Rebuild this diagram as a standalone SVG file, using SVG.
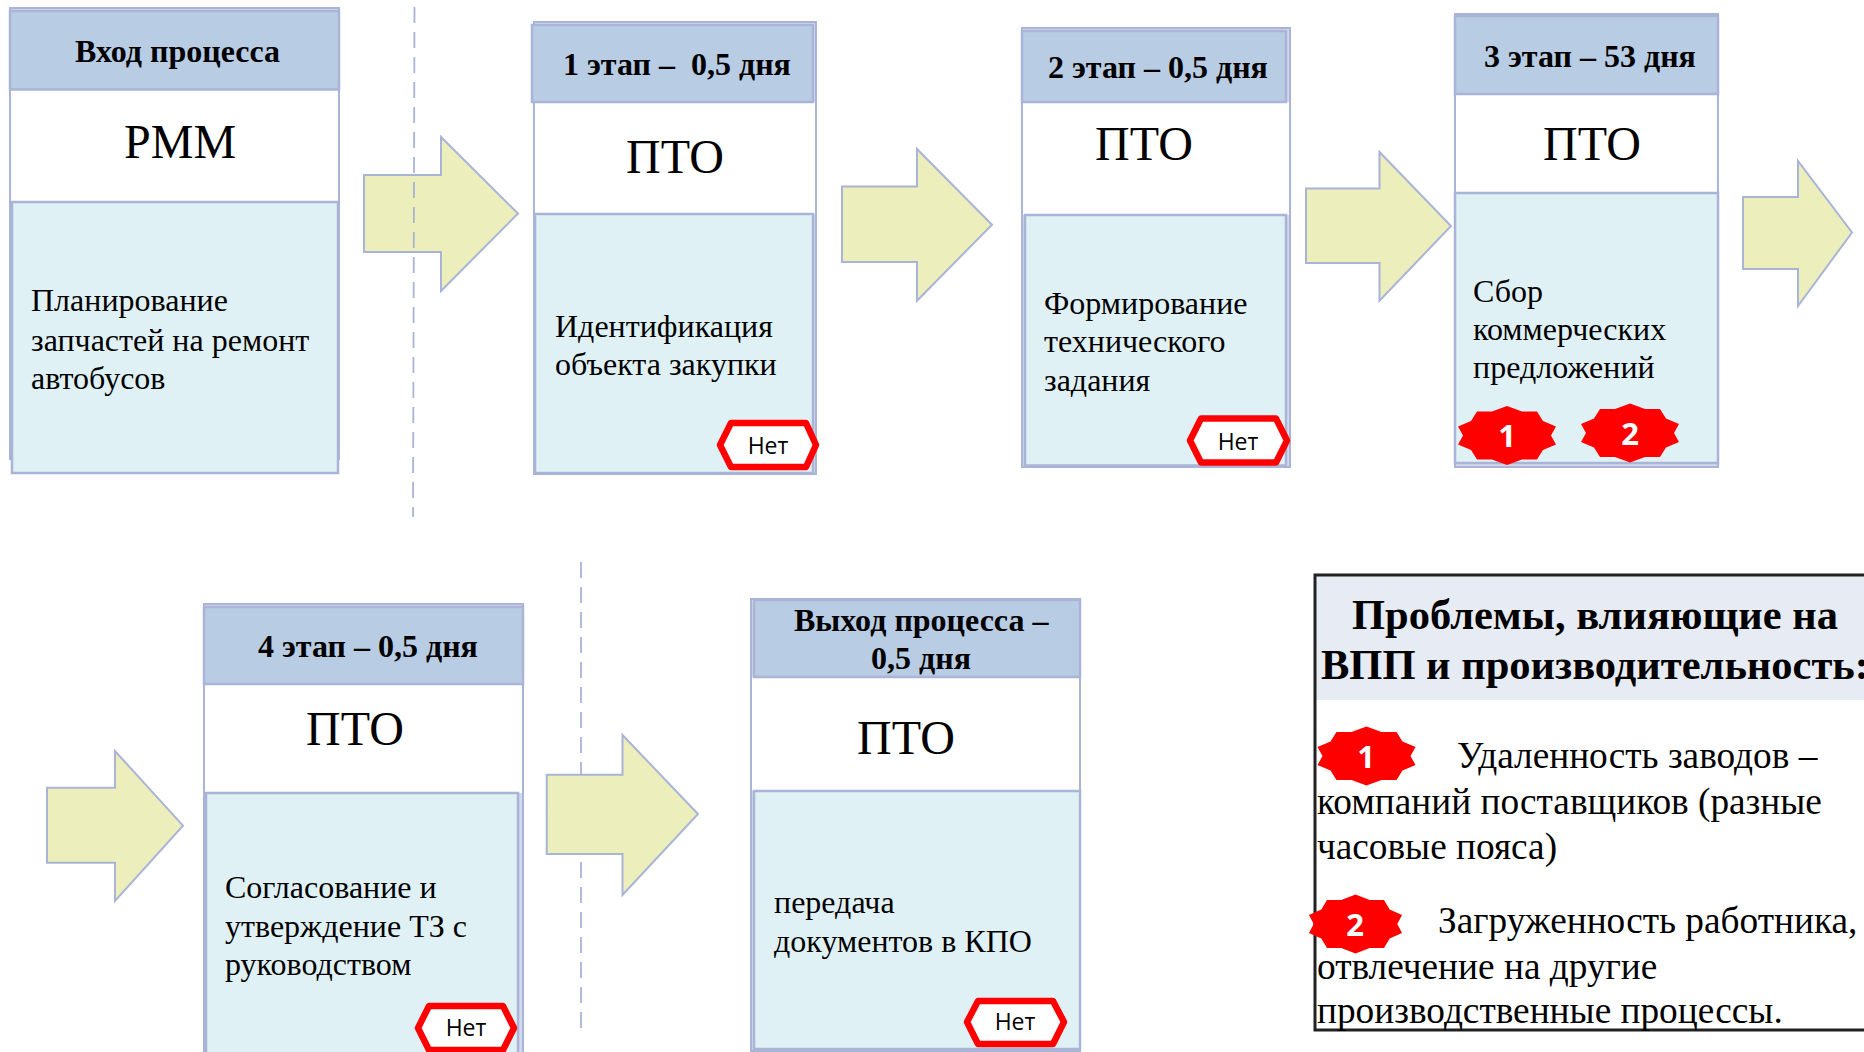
<svg xmlns="http://www.w3.org/2000/svg" width="1864" height="1052" viewBox="0 0 1864 1052">
<style>
text{font-family:"Liberation Serif","Times New Roman",serif;fill:#000;white-space:pre}
.outer{fill:#d3d8ec;stroke:#a9b4d6;stroke-width:2}
.mid{fill:#fff}
.hd{fill:#b8cce4;stroke:#a9b4d6;stroke-width:2.5}
.bd{fill:#e0f1f6;stroke:#a9b4d6;stroke-width:2.5}
.h{font-size:32px;font-weight:bold}
.who{font-size:48px}
.b{font-size:32px}
.arrow{fill:#eceebb;stroke:#a9b4d6;stroke-width:2}
.dash{fill:none;stroke:#a9b4d6;stroke-width:1.8;stroke-dasharray:16 9}
.hex{fill:#fff;stroke:#f00;stroke-width:6.5;stroke-linejoin:round}
.no{font-family:"Open Sans","Liberation Sans",sans-serif;font-size:23px;text-anchor:middle}
.num{font-family:"Open Sans","Liberation Sans",sans-serif;font-size:31px;font-weight:bold;fill:#fff;text-anchor:middle}
.pt{font-size:42.5px;font-weight:bold}
.p{font-size:37.3px}
</style>
<defs>
<polygon id="starShape" fill="#f00" points="0,-29.5 15,-24 30,-24 36,-14.5 49,-9 44,0 49,9 36,14.5 30,24 15,24 0,29.5 -15,24 -30,24 -36,14.5 -49,9 -44,0 -49,-9 -36,-14.5 -30,-24 -15,-24"/>
</defs>
<rect width="1864" height="1052" fill="#fff"/>
<g id="connectors">
<polygon class="arrow" points="364,175 441,175 441,137 518,213.500 441,291 441,252 364,252"/>
<line class="dash" x1="414.500" y1="7" x2="413" y2="517"/>
<polygon class="arrow" points="842,186.500 917,186.500 917,149 992,224.700 917,300.700 917,262 842,262"/>
<polygon class="arrow" points="1306,188.500 1379.500,188.500 1379.500,152 1451,226 1379.500,300.700 1379.500,263 1306,263"/>
<polygon class="arrow" points="1743,197 1798,197 1798,161 1852,232.500 1798,306 1798,269 1743,269"/>
<polygon class="arrow" points="47,787.700 115,787.700 115,751 183,825.700 115,901 115,862.700 47,862.700"/>
<line class="dash" x1="581" y1="562" x2="581" y2="1037"/>
<polygon class="arrow" points="546.700,774.700 622.500,774.700 622.500,735 698,814 622.500,895 622.500,854 546.700,854"/>
</g>
<g id="node-input">
<rect class="outer" x="10" y="8" width="329" height="451"/>
<rect class="mid" x="11" y="90" width="327" height="112"/>
<rect class="hd" x="10" y="11" width="329" height="78.500"/>
<rect class="bd" x="12" y="202" width="326" height="271"/>
<text class="h" x="75" y="62">Вход процесса</text>
<text class="who" x="124" y="158">РММ</text>
<text class="b" x="31" y="311">Планирование</text>
<text class="b" x="31" y="351">запчастей на ремонт</text>
<text class="b" x="31" y="389">автобусов</text>
</g>
<g id="node-stage1">
<rect class="outer" x="534" y="22" width="282" height="452"/>
<rect class="mid" x="535" y="102" width="280" height="112"/>
<rect class="hd" x="532" y="25" width="281" height="77"/>
<rect class="bd" x="535" y="214" width="278" height="259"/>
<text class="h" x="563" y="75">1 этап –  0,5 дня</text>
<text class="who" x="626" y="173">ПТО</text>
<text class="b" x="555" y="337">Идентификация</text>
<text class="b" x="555" y="375">объекта закупки</text>
<polygon class="hex" points="720,445 731,423 806,423 816,445 806,467 731,467"/>
<text class="no" x="768" y="454">Нет</text>
</g>
<g id="node-stage2">
<rect class="outer" x="1022" y="28" width="268" height="439"/>
<rect class="mid" x="1023" y="102" width="266" height="113"/>
<rect class="hd" x="1022" y="31" width="264" height="71"/>
<rect class="bd" x="1025" y="215" width="261" height="250.500"/>
<text class="h" x="1048" y="78">2 этап – 0,5 дня</text>
<text class="who" x="1095" y="160">ПТО</text>
<text class="b" x="1044" y="314">Формирование</text>
<text class="b" x="1044" y="352">технического</text>
<text class="b" x="1044" y="391">задания</text>
<polygon class="hex" points="1190,440.500 1201,418.500 1276,418.500 1287,440.500 1276,462.500 1201,462.500"/>
<text class="no" x="1238" y="450">Нет</text>
</g>
<g id="node-stage3">
<rect class="outer" x="1455" y="14" width="263" height="453"/>
<rect class="mid" x="1456" y="94" width="261" height="99"/>
<rect class="hd" x="1455" y="16" width="263" height="78"/>
<rect class="bd" x="1455" y="193" width="263" height="270"/>
<text class="h" x="1484" y="67">3 этап – 53 дня</text>
<text class="who" x="1543" y="160">ПТО</text>
<text class="b" x="1473" y="302">Сбор</text>
<text class="b" x="1473" y="340">коммерческих</text>
<text class="b" x="1473" y="378">предложений</text>
<g id="badge-1"><use href="#starShape" x="1507" y="435.500"/><text class="num" x="1507" y="447">1</text></g>
<g id="badge-2"><use href="#starShape" x="1630" y="433"/><text class="num" x="1630" y="445">2</text></g>
</g>
<g id="node-stage4">
<rect class="outer" x="204" y="604" width="319" height="460"/>
<rect class="mid" x="205" y="684" width="317" height="109"/>
<rect class="hd" x="204" y="607" width="319" height="77"/>
<rect class="bd" x="206" y="793" width="312" height="270"/>
<text class="h" x="258" y="657">4 этап – 0,5 дня</text>
<text class="who" x="306" y="745">ПТО</text>
<text class="b" x="225" y="898">Согласование и</text>
<text class="b" x="225" y="937">утверждение ТЗ с</text>
<text class="b" x="225" y="975">руководством</text>
<polygon class="hex" points="418,1028 429,1006 503,1006 514,1028 503,1050 429,1050"/>
<text class="no" x="466" y="1036">Нет</text>
</g>
<g id="node-output">
<rect class="outer" x="751" y="599" width="329" height="452"/>
<rect class="mid" x="752" y="677" width="327" height="114"/>
<rect class="hd" x="754" y="600" width="326" height="77"/>
<rect class="bd" x="754" y="791" width="326" height="258"/>
<text class="h" x="794" y="631">Выход процесса –</text>
<text class="h" x="871" y="669">0,5 дня</text>
<text class="who" x="857" y="754">ПТО</text>
<text class="b" x="774" y="913">передача</text>
<text class="b" x="774" y="952">документов в КПО</text>
<polygon class="hex" points="967,1022 978,1001 1053,1001 1064,1022 1053,1044 978,1044"/>
<text class="no" x="1015" y="1030">Нет</text>
</g>
<g id="problems">
<rect x="1316" y="576" width="548" height="124" fill="#e7ebf3"/>
<path d="M1864,575 H1315 V1030 H1864" fill="none" stroke="#222" stroke-width="3"/>
<text class="pt" x="1352" y="629">Проблемы, влияющие на</text>
<text class="pt" x="1321" y="679">ВПП и производительность:</text>
<g id="problem-badge-1"><use href="#starShape" x="1366.500" y="756"/><text class="num" x="1366" y="768">1</text></g>
<text class="p" x="1457" y="768">Удаленность заводов –</text>
<text class="p" x="1317" y="814">компаний поставщиков (разные</text>
<text class="p" x="1317" y="859">часовые пояса)</text>
<g id="problem-badge-2"><use href="#starShape" transform="translate(1355.500 924) scale(.95 1)"/><text class="num" x="1355" y="936">2</text></g>
<text class="p" x="1438" y="933">Загруженность работника,</text>
<text class="p" x="1317" y="979">отвлечение на другие</text>
<text class="p" x="1317" y="1023">производственные процессы.</text>
</g>
</svg>
